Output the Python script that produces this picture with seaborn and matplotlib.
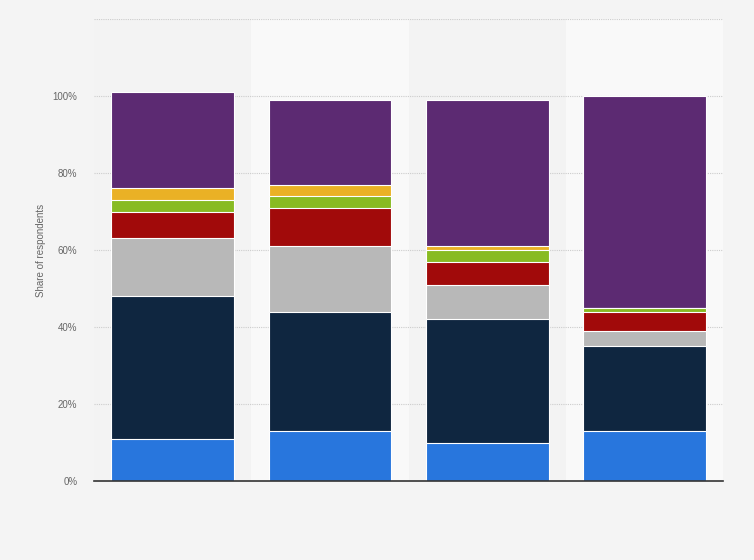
import numpy as np
import pandas as pd
import matplotlib
matplotlib.use("Agg")
import matplotlib.pyplot as plt
import seaborn as sns
from matplotlib.patches import Rectangle

# Data (share of respondents, %)
groups = ["Group 1", "Group 2", "Group 3", "Group 4"]
seg_blue = [11, 13, 10, 13]
seg_navy = [37, 31, 32, 22]
seg_grey = [15, 17, 9, 4]
seg_red = [7, 10, 6, 5]
seg_green = [3, 3, 3, 1]
seg_yellow = [3, 3, 1, 0]
seg_purple = [25, 22, 38, 55]

segments = [seg_blue, seg_navy, seg_grey, seg_red, seg_green, seg_yellow, seg_purple]
colors = ["#2876dd", "#0f2640", "#b8b8b8", "#a10a0a", "#88bb22", "#eab125", "#5c2a72"]

cum = np.cumsum(np.array(segments), axis=0)

sns.set_style("white")
plt.rcParams["font.family"] = ["Liberation Sans", "DejaVu Sans"]

fig = plt.figure(figsize=(7.54, 5.6), dpi=100, facecolor="#f4f4f4")
ax = fig.add_axes([0.1247, 0.141, 0.8343, 0.825])
ax.set_facecolor("#f4f4f4")

# alternating column bands
band_cols = ["#f3f3f3", "#f9f9f9", "#f3f3f3", "#f9f9f9"]
for i, c in enumerate(band_cols):
    ax.add_patch(Rectangle((i - 0.5, 0), 1, 1, transform=ax.get_xaxis_transform(),
                           facecolor=c, edgecolor="none", zorder=0))

# stacked bars: draw cumulative totals from the top down
for k in range(len(segments) - 1, -1, -1):
    df = pd.DataFrame({"group": groups, "value": cum[k]})
    sns.barplot(data=df, x="group", y="value", color=colors[k], width=0.78,
                edgecolor="white", linewidth=0.8, ax=ax, zorder=3, saturation=1)

ax.set_xlim(-0.5, 3.5)
ax.set_ylim(0, 120)
ax.set_yticks([0, 20, 40, 60, 80, 100, 120])
ax.set_yticklabels(["0%", "20%", "40%", "60%", "80%", "100%", ""])
ax.tick_params(axis="y", length=0, labelsize=7, labelcolor="#666666", pad=12)
ax.set_xticks([])
ax.set_xlabel("")
ax.set_ylabel("Share of respondents", fontsize=7, color="#666666", labelpad=5)

for y in [20, 40, 60, 80, 100, 120]:
    ax.axhline(y, color="#cccccc", linestyle=(0, (1, 1)), linewidth=0.8, zorder=1)

for s in ["top", "right", "left"]:
    ax.spines[s].set_visible(False)
ax.spines["bottom"].set_color("#333333")
ax.spines["bottom"].set_linewidth(1.2)
ax.spines["bottom"].set_zorder(5)

fig.savefig("out.png", dpi=100, facecolor=fig.get_facecolor())
